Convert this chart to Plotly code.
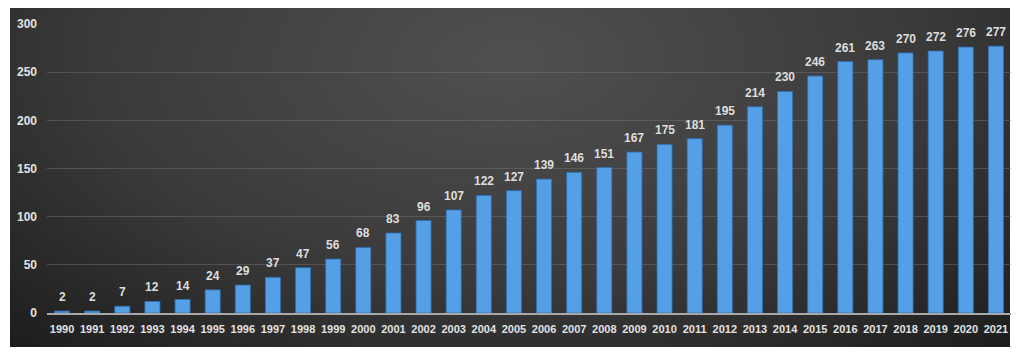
import plotly.graph_objects as go
import base64

years = [str(y) for y in range(1990, 2022)]
values = [2, 2, 7, 12, 14, 24, 29, 37, 47, 56, 68, 83, 96, 107, 122, 127, 139, 146, 151,
          167, 175, 181, 195, 214, 230, 246, 261, 263, 270, 272, 276, 277]
y_ticks = [0, 50, 100, 150, 200, 250, 300]

W, H = 1018, 355
L, R, T, B = 47, 7, 24, 42
pw, ph = W - L - R, H - T - B

svg = """<svg xmlns='http://www.w3.org/2000/svg' width='1000' height='340' viewBox='0 0 1000 340' preserveAspectRatio='none'>
<defs><radialGradient id='g' cx='0.5' cy='0.15' r='0.75' gradientTransform='translate(0.5 0.15) scale(1 1.6) translate(-0.5 -0.15)'>
<stop offset='0' stop-color='#505050'/><stop offset='0.55' stop-color='#3a3a3a'/><stop offset='1' stop-color='#1b1b1b'/></radialGradient></defs>
<rect width='1000' height='340' fill='url(#g)'/></svg>"""
src = "data:image/svg+xml;base64," + base64.b64encode(svg.encode()).decode()

FONT = "Liberation Sans, Arial, sans-serif"
x0, x1, y0, y1 = 10, 1010, 8, 347
fig = go.Figure()
fig.add_trace(go.Bar(
    x=years, y=values,
    marker=dict(color="#559fe6", line=dict(color="#2f6fb5", width=0.8)),
    width=0.5,
))
for i, v in enumerate(values):
    fig.add_annotation(x=i, y=v, xref="x", yref="y", text=str(v), showarrow=False,
                       yanchor="bottom", yshift=5,
                       font=dict(color="#dedede", size=12, family=FONT, weight="bold"))
fig.add_layout_image(dict(
    source=src, xref="paper", yref="paper",
    x=(x0 - L) / pw, y=(H - B - y0) / ph,
    sizex=(x1 - x0) / pw, sizey=(y1 - y0) / ph,
    sizing="stretch", layer="below", xanchor="left", yanchor="top",
))
fig.update_layout(
    width=W, height=H, margin=dict(l=L, r=R, t=T, b=B),
    paper_bgcolor="white", plot_bgcolor="rgba(0,0,0,0)",
    showlegend=False,
    font=dict(family=FONT, color="#e0e0e0"),
    xaxis=dict(type="category", categoryarray=years, categoryorder="array",
               range=[-0.5, len(years) - 0.5],
               showgrid=False, showline=True, linecolor="#a8a8a8", linewidth=1.5,
               tickfont=dict(size=11, color="#e2e2e2", family=FONT, weight="bold"),
               ticks="", ticklabelstandoff=5, tickangle=0),
    yaxis=dict(range=[0, 300], tickvals=y_ticks, showgrid=True, gridcolor="rgba(120,120,120,0.45)", gridwidth=1,
               zeroline=False, showline=False,
               tickfont=dict(size=12, color="#e2e2e2", family=FONT, weight="bold"),
               ticks="", ticklabelstandoff=9),
)
fig.write_html("out.html", config={"displayModeBar": False},
               post_script="document.body.style.margin='0';document.body.style.overflow='hidden';")
